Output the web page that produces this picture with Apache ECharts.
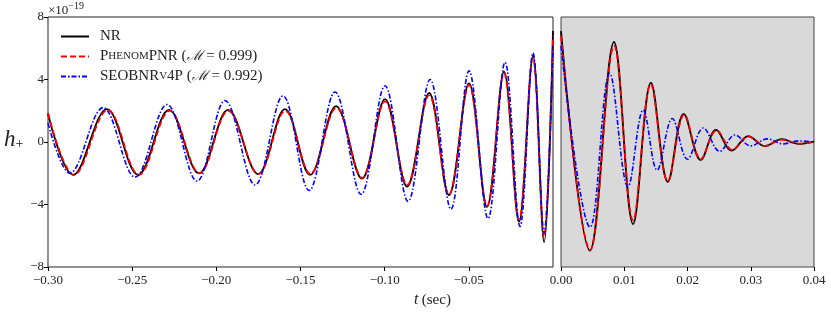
<!DOCTYPE html>
<html><head><meta charset="utf-8">
<script src="https://cdn.jsdelivr.net/npm/echarts/dist/echarts.min.js"></script>
<style>html,body{margin:0;padding:0;background:#fff}#c{width:831px;height:317px}</style>
</head><body><div id="c"></div>
<script>
// ---- data: extrema (h in units of 1e-19, t in sec) ----
const nrT = [-0.300,-0.2851,-0.2650,-0.2465,-0.2281,-0.2103,-0.1930,-0.1752,-0.1592,-0.1443,-0.1289,-0.1135,-0.0998,-0.0867,-0.0736,-0.0618,-0.0499,-0.0392,-0.0291,-0.0202,-0.0119,-0.0053,0.0,
  0.00458,0.00838,0.0114,0.01423,0.0169,0.0194,0.0221,0.0245,0.0270,0.0296,0.0322,0.0349,0.0375,0.0400];
const nrH = [1.8,-2.1,2.1,-2.1,2.05,-2.0,2.05,-2.05,2.1,-2.1,2.3,-2.35,2.75,-2.85,3.15,-3.4,3.75,-4.15,4.5,-5.1,5.5,-6.4,7.1,
  -6.95,6.4,-5.25,3.8,-2.55,1.8,-1.15,0.77,-0.55,0.38,-0.26,0.18,-0.12,0.03];

const phT = [-0.300,-0.2845,-0.2645,-0.2460,-0.2277,-0.2100,-0.1928,-0.1750,-0.1590,-0.1441,-0.1287,-0.1134,-0.0998,-0.0866,-0.0736,-0.0618,-0.0499,-0.0392,-0.0291,-0.0202,-0.0120,-0.0054,0.0,
  0.0046,0.0084,0.0114,0.0142,0.0169,0.0195,0.0221,0.0246,0.0271,0.0297,0.0323,0.0349,0.0375,0.0400];
const phH = [1.85,-2.1,2.05,-2.1,2.0,-2.0,2.0,-2.05,2.0,-2.05,2.2,-2.3,2.6,-2.75,3.0,-3.35,3.65,-4.1,4.4,-5.0,5.4,-6.1,6.8,
  -6.9,6.15,-5.0,3.7,-2.5,1.75,-1.1,0.75,-0.5,0.35,-0.25,0.15,-0.1,0.02];

const seT = [-0.300,-0.2870,-0.2673,-0.2483,-0.2293,-0.2115,-0.1948,-0.1770,-0.1604,-0.1449,-0.1295,-0.1140,-0.0998,-0.0861,-0.0730,-0.0606,-0.0499,-0.0386,-0.0285,-0.0196,-0.0119,-0.0053,0.0,
  0.0046,0.0077,0.0106,0.0130,0.0152,0.0176,0.0200,0.0225,0.0251,0.0275,0.0300,0.0326,0.0351,0.0376,0.0400];
const seH = [1.2,-2.0,2.2,-2.25,2.4,-2.5,2.65,-2.75,2.95,-3.1,3.2,-3.35,3.6,-3.8,4.0,-4.3,4.55,-4.9,5.1,-5.4,5.7,-5.85,6.15,
  -5.45,4.4,-2.85,2.05,-1.8,1.5,-1.1,0.9,-0.6,0.45,-0.25,0.2,-0.12,0.07,0.0];

const yTicks = [-8,-4,0,4,8];

// ---- build ----
function pairs(T,H,keep){ const out=[]; for(let i=0;i<T.length;i++){ if(keep(T[i])) out.push([T[i],H[i]]); } return out; }
const serif = 'Liberation Serif';
const fmtX = v => (v < -1e-9 ? '\u2212' : '') + Math.abs(v).toFixed(2);
const fmtY = v => (v < 0 ? '\u2212' + Math.abs(v) : String(v));

const names = ['NR','PhenomPNR','SEOBNRv4P'];
const colors = ['#000000','#ff0000','#0000ff'];
const widths = [1.8,1.8,1.6];
const types = ['solid',[6,3],[5,2,1.5,2]];
const arrs = [[nrT,nrH],[phT,phH],[seT,seH]];

const series = [];
[0,1].forEach(g => {
  for (let k=0;k<3;k++){
    series.push({
      type:'line', name:names[k], xAxisIndex:g, yAxisIndex:g,
      data: pairs(arrs[k][0], arrs[k][1], g===0 ? (t=>t<=0) : (t=>t>=0)),
      smooth:0.37, smoothMonotone:'none', symbol:'none', showSymbol:false, clip:true,
      lineStyle:{color:colors[k], width:widths[k], type:types[k]},
      itemStyle:{color:colors[k]}, z: 2+k, animation:false
    });
  }
});

const chart = echarts.init(document.getElementById('c'), null, {renderer:'canvas'});
const axisCommon = {
  axisLine:{show:false, onZero:false}, splitLine:{show:false},
  axisTick:{show:true, inside:false, length:4, lineStyle:{color:'#000', width:1}},
  axisLabel:{fontFamily:serif, fontSize:13, color:'#222', margin:7}
};
chart.setOption({
  animation:false,
  backgroundColor:'#ffffff',
  grid:[
    {left:48, right:278, top:17, bottom:50, show:true, borderColor:'#222', borderWidth:1, backgroundColor:'#ffffff'},
    {left:561, right:17, top:17, bottom:50, show:true, borderColor:'#444', borderWidth:1, backgroundColor:'#d9d9d9'}
  ],
  xAxis:[
    Object.assign({}, axisCommon, {type:'value', gridIndex:0, min:-0.30, max:0, interval:0.05,
      axisLabel:Object.assign({}, axisCommon.axisLabel, {formatter:fmtX, showMaxLabel:false, showMinLabel:true})}),
    Object.assign({}, axisCommon, {type:'value', gridIndex:1, min:0, max:0.04, interval:0.01,
      axisLabel:Object.assign({}, axisCommon.axisLabel, {formatter:fmtX, showMinLabel:true, showMaxLabel:true})})
  ],
  yAxis:[
    Object.assign({}, axisCommon, {type:'value', gridIndex:0, min:yTicks[0], max:yTicks[yTicks.length-1], interval:4,
      axisLabel:Object.assign({}, axisCommon.axisLabel, {formatter:fmtY, margin:4})}),
    {type:'value', gridIndex:1, min:-8, max:8, interval:4, axisLine:{show:false, onZero:false}, axisTick:{show:false}, axisLabel:{show:false}, splitLine:{show:false}}
  ],
  legend:{
    left:55, top:24, orient:'vertical', itemWidth:28, itemHeight:14, itemGap:5,
    data:names, selectedMode:false, itemStyle:{opacity:0},
    textStyle:{fontFamily:serif, fontSize:15, color:'#222', padding:[0,0,0,6],
      rich:{
        n:{fontFamily:serif, fontSize:15, color:'#222'},
        s:{fontFamily:serif, fontSize:11, color:'#222'},
        m:{fontFamily:'DejaVu Serif', fontSize:14, fontStyle:'italic', color:'#222'}
      }},
    formatter: name => {
      if (name==='NR') return '{n|NR}';
      if (name==='PhenomPNR') return '{n|P}{s|HENOM}{n|PNR (}{m|\u2133}{n| = 0.999)}';
      return '{n|SEOBNR}{s|V}{n|4P (}{m|\u2133}{n| = 0.992)}';
    }
  },
  graphic:[
    {type:'text', left:48, top:1, style:{text:'{a|\u00d710}{b|\u221219}', rich:{
      a:{fontFamily:serif, fontSize:13, fill:'#222', verticalAlign:'bottom'},
      b:{fontFamily:serif, fontSize:10, fill:'#222', verticalAlign:'top', padding:[0,0,6,0]}}}},
    {type:'text', left:4, top:128, style:{text:'{h|h}{p|+}', rich:{
      h:{fontFamily:serif, fontStyle:'italic', fontSize:23, fill:'#222'},
      p:{fontFamily:serif, fontSize:14, fill:'#222', padding:[10,0,0,0]}}}},
    {type:'text', left:414, top:292, style:{text:'{t|t} {r|(sec)}', rich:{
      t:{fontFamily:serif, fontStyle:'italic', fontSize:16, fill:'#222'},
      r:{fontFamily:serif, fontSize:15, fill:'#222'}}}}
  ],
  series: series
});
</script></body></html>
